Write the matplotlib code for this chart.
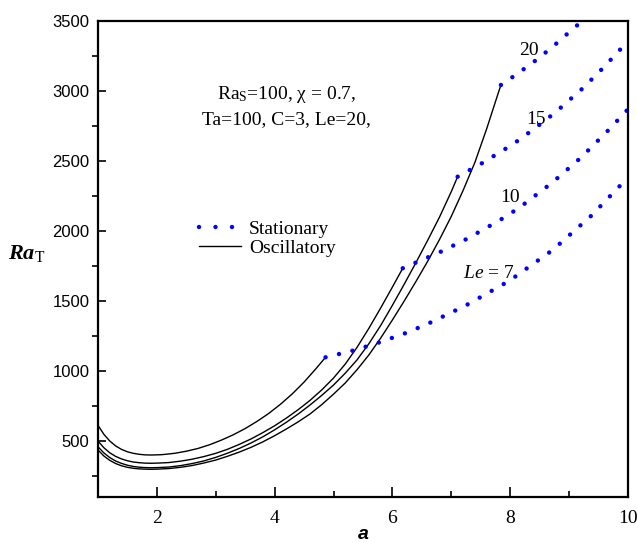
import numpy as np
import matplotlib
matplotlib.use('Agg')
import matplotlib.pyplot as plt
from matplotlib.lines import Line2D

plt.rcParams['mathtext.fontset'] = 'custom'
plt.rcParams['mathtext.rm'] = 'Liberation Serif'
plt.rcParams['mathtext.it'] = 'Liberation Serif:italic'
plt.rcParams['mathtext.bf'] = 'Liberation Serif:bold:italic'

# oscillatory branches (solid black), one per Lewis number
a_osc_7 = [1.0, 1.1, 1.2, 1.3, 1.4, 1.5, 1.6, 1.7, 1.8, 1.9, 2.0, 2.1, 2.3, 2.5, 2.7, 2.9,
           3.1, 3.3, 3.5, 3.7, 3.9, 4.1, 4.3, 4.5, 4.7, 4.864]
ra_osc_7 = [612, 548, 500, 465, 440, 423, 412, 405, 401, 400, 401, 403, 412, 427, 447, 474,
            507, 545, 589, 640, 697, 763, 837, 921, 1016, 1098]

a_osc_10 = [1.0, 1.1, 1.2, 1.3, 1.4, 1.5, 1.6, 1.7, 1.8, 1.9, 2.0, 2.2, 2.4, 2.6, 2.8, 3.0,
            3.2, 3.4, 3.6, 3.8, 4.0, 4.2, 4.4, 4.6, 4.8, 5.0, 5.2, 5.4, 5.6, 5.8, 6.0, 6.175]
ra_osc_10 = [500, 452, 416, 390, 372, 359, 350, 345, 342, 341, 342, 346, 356, 370, 389, 412,
             441, 476, 515, 560, 609, 664, 724, 790, 865, 950, 1050, 1170, 1305, 1450, 1600, 1734]

a_osc_15 = [1.0, 1.1, 1.2, 1.3, 1.4, 1.5, 1.6, 1.7, 1.8, 1.9, 2.0, 2.2, 2.4, 2.6, 2.8, 3.0,
            3.2, 3.4, 3.6, 3.8, 4.0, 4.2, 4.4, 4.6, 4.8, 5.0, 5.2, 5.4, 5.6, 5.8, 6.0, 6.2,
            6.4, 6.6, 6.8, 7.0, 7.107]
ra_osc_15 = [459, 415, 382, 357, 340, 327, 318, 313, 310, 309, 310, 314, 324, 339, 358, 383,
             413, 447, 486, 530, 580, 634, 693, 757, 826, 900, 985, 1080, 1195, 1325, 1470, 1620,
             1775, 1935, 2100, 2282, 2388]

a_osc_20 = [1.0, 1.1, 1.2, 1.3, 1.4, 1.5, 1.6, 1.7, 1.8, 1.9, 2.0, 2.2, 2.4, 2.6, 2.8, 3.0,
            3.2, 3.4, 3.6, 3.8, 4.0, 4.2, 4.4, 4.6, 4.8, 5.0, 5.2, 5.4, 5.6, 5.8, 6.0, 6.2,
            6.4, 6.6, 6.8, 7.0, 7.2, 7.4, 7.6, 7.8, 7.842]
ra_osc_20 = [436, 393, 362, 339, 323, 312, 305, 301, 299, 298, 299, 303, 312, 325, 343, 364,
             391, 421, 455, 494, 538, 586, 637, 693, 760, 835, 915, 1010, 1115, 1235, 1365, 1500,
             1640, 1785, 1940, 2105, 2290, 2490, 2730, 2990, 3043]

# stationary branches (blue dots)
a_st_7 = [4.864, 5.09, 5.32, 5.54, 5.76, 5.94, 6.16, 6.58, 7.24, 7.98, 8.72, 9.37, 9.85, 10.0]
ra_st_7 = [1098, 1121, 1145, 1173, 1202, 1229, 1260, 1333, 1467, 1643, 1864, 2107, 2317, 2383]

a_st_10 = [6.175, 6.8, 7.25, 7.81, 8.15, 8.72, 9.2, 9.68, 9.95, 10.0]
ra_st_10 = [1734, 1848, 1941, 2074, 2165, 2348, 2524, 2726, 2848, 2870]

a_st_15 = [7.107, 7.50, 8.05, 8.41, 8.76, 9.23, 9.57, 9.86, 10.0]
ra_st_15 = [2388, 2479, 2621, 2731, 2845, 3019, 3162, 3293, 3355]

a_st_20 = [7.842, 8.01, 8.37, 8.71, 9.03, 9.25]
ra_st_20 = [3043, 3091, 3198, 3312, 3431, 3510]

le_labels = ['Le = 7', '10', '15', '20']
le_label_pos = [(7.64, 1700), (7.99, 2238), (8.44, 2800), (8.32, 3288)]

dots = (0, (0.01, 3.1))

fig = plt.figure(figsize=(6.37, 5.43), dpi=100)
ax = fig.add_axes([0.1538, 0.0847, 0.8321, 0.8766])

for a, ra in [(a_osc_7, ra_osc_7), (a_osc_10, ra_osc_10),
              (a_osc_15, ra_osc_15), (a_osc_20, ra_osc_20)]:
    ax.plot(a, ra, color='black', lw=1.0)

for a, ra in [(a_st_7, ra_st_7), (a_st_10, ra_st_10),
              (a_st_15, ra_st_15), (a_st_20, ra_st_20)]:
    ax.plot(a, ra, color='#0000ff', lw=3.2, linestyle=dots, dash_capstyle='round')

ax.set_xlim(1, 10)
ax.set_ylim(100, 3500)
ax.set_xticks([2, 4, 6, 8, 10])
ax.set_xticks([3, 5, 7, 9], minor=True)
ax.set_yticks(np.arange(500, 3501, 500))
ax.set_yticks(np.arange(250, 3500, 500), minor=True)

ax.tick_params(axis='x', which='major', direction='in', length=7, width=1.2, pad=9)
ax.tick_params(axis='x', which='minor', direction='in', length=4, width=1.2)
ax.tick_params(axis='y', which='major', direction='in', length=6, width=1.2, pad=6)
ax.tick_params(axis='y', which='minor', direction='out', length=4, width=1.2)
for lab in ax.get_xticklabels():
    lab.set_fontfamily('Liberation Serif')
    lab.set_fontsize(14)
for lab in ax.get_yticklabels():
    lab.set_fontfamily('Liberation Sans')
    lab.set_fontsize(12)
for sp in ax.spines.values():
    sp.set_linewidth(1.6)

ax.set_xlabel('a', fontfamily='Liberation Sans', fontweight='bold',
              fontstyle='italic', fontsize=14)
ax.xaxis.set_label_coords(0.5, -0.078, transform=ax.transAxes)
ax.xaxis.label.set_va('center')
ax.set_ylabel(r'$\mathbf{Ra}_{\mathrm{T}}$', fontsize=16, rotation=0)
ax.yaxis.set_label_coords(-0.135, 0.49)

ax.text(0.355, 0.845, r'Ra$_{\mathrm{S}}$=100, χ = 0.7,', transform=ax.transAxes,
        ha='center', va='center', fontfamily='Liberation Serif', fontsize=14)
ax.text(0.355, 0.792, 'Ta=100, C=3, Le=20,', transform=ax.transAxes,
        ha='center', va='center', fontfamily='Liberation Serif', fontsize=14)

for lab, (x, y) in zip(le_labels, le_label_pos):
    if lab.startswith('Le'):
        lab = r'$Le$ = 7'
    ax.text(x, y, lab, ha='center', va='center', fontfamily='Liberation Serif', fontsize=14)

handles = [Line2D([], [], color='#0000ff', lw=3.2, linestyle=(0, (0.01, 3.7)), dash_capstyle='round'),
           Line2D([], [], color='black', lw=1.0)]
leg = ax.legend(handles, ['Stationary', 'Oscillatory'], loc='center left',
                bbox_to_anchor=(0.19, 0.543), frameon=False, borderpad=0,
                borderaxespad=0, handlelength=2.2, handletextpad=0.4,
                labelspacing=0.05, prop={'family': 'Liberation Serif', 'size': 14})

fig.savefig('out.png', dpi=100)
